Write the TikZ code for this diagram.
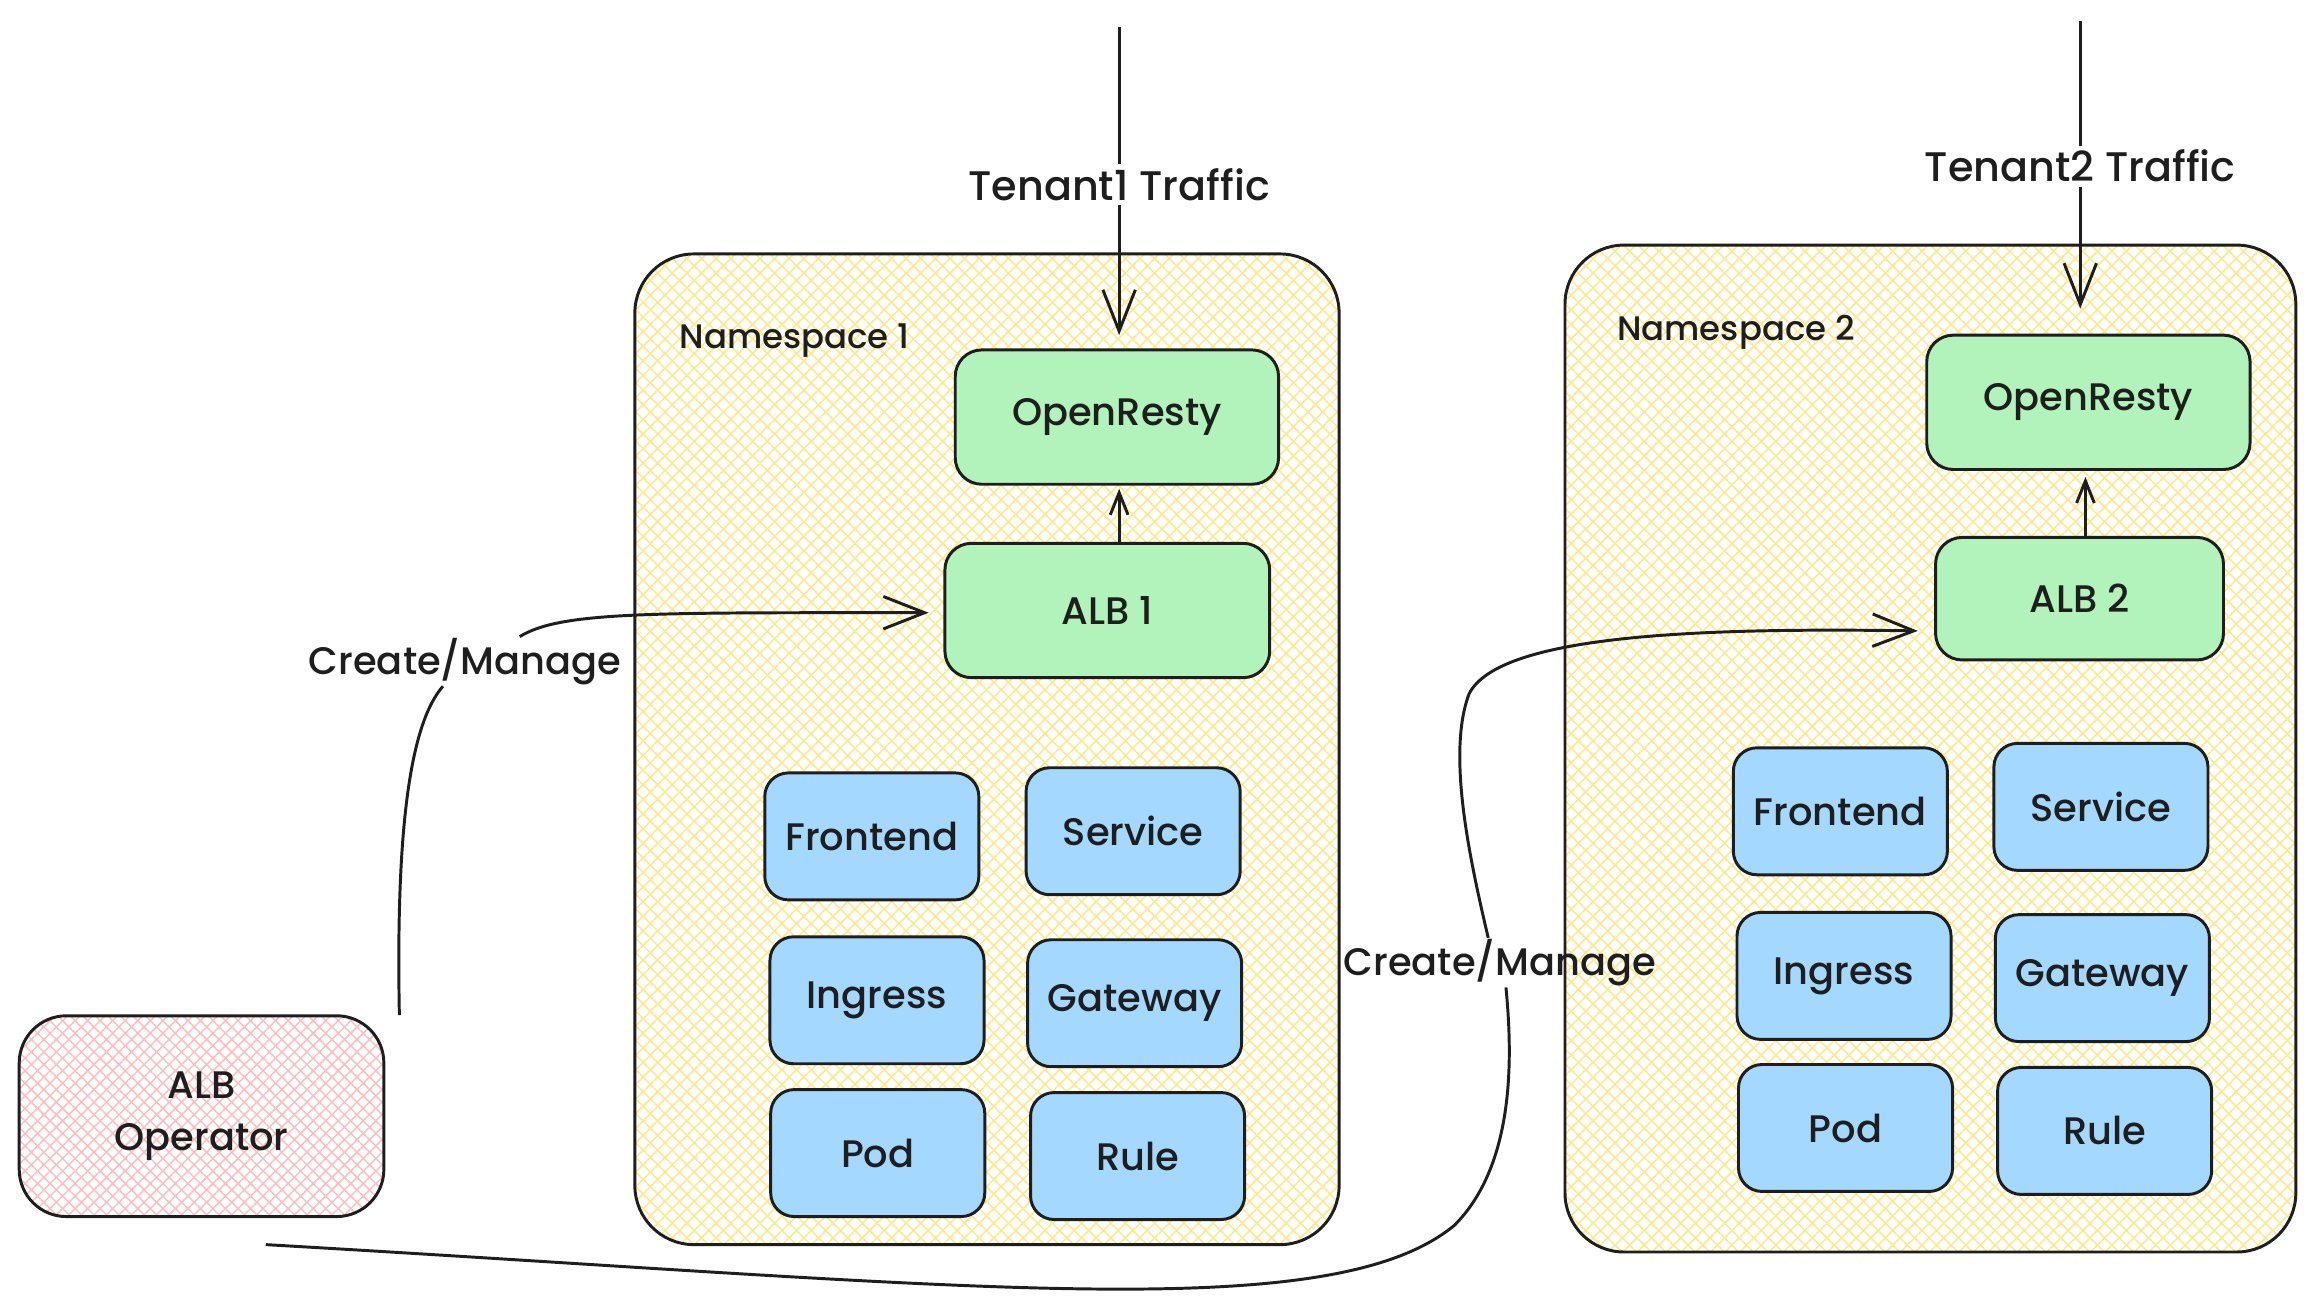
\documentclass[tikz,border=0pt]{standalone}
\usepackage{fontspec}
\setmainfont{Poppins}[UprightFont=* Medium]
\usetikzlibrary{arrows.meta,patterns.meta}
\definecolor{ink}{HTML}{1E1E1E}
\definecolor{nsyellow}{HTML}{FFE88F}
\definecolor{oppink}{HTML}{FFBDBD}
\definecolor{albgreen}{HTML}{B2F2BB}
\definecolor{resblue}{HTML}{A5D8FF}

\begin{document}
\begin{tikzpicture}[x=1pt,y=-1pt,
  line width=2pt,draw=ink,text=ink,
  every node/.style={font=\fontsize{26}{35}\selectfont},
  ns node/.style={draw=ink,line width=2pt,rounded corners=40pt,
    pattern={Hatch[angle=45,distance=7pt,line width=1.1pt]},pattern color=nsyellow},
  ns label/.style={font=\fontsize{23}{28}\selectfont,anchor=west},
  op node/.style={draw=ink,line width=2pt,rounded corners=32pt,align=center,
    minimum width=247pt,minimum height=136pt,
    pattern={Hatch[angle=45,distance=6pt,line width=1pt]},pattern color=oppink},
  green node/.style={draw=ink,fill=albgreen,rounded corners=18pt,
    minimum width=219pt,minimum height=91pt},
  blue node/.style={draw=ink,fill=resblue,rounded corners=16pt,
    minimum width=145pt,minimum height=86pt},
  cm label/.style={inner sep=0pt},
  traffic label/.style={fill=white,inner sep=3pt,font=\fontsize{28}{32}\selectfont},
  big arrow/.style={-{Straight Barb[length=28pt,width=22pt,line width=2pt]}},
  small arrow/.style={-{Straight Barb[length=15pt,width=12pt,line width=2pt]}}]

  \useasboundingbox (0,0) rectangle (1568,878);

  % namespaces
  \node[ns node,minimum width=477pt,minimum height=671pt] (ns1) at (668.5,507.5) {};
  \node[ns node,minimum width=495pt,minimum height=682pt] (ns2) at (1307.5,507) {};
  \node[ns label] (nsl1) at (456,231) {Namespace 1};
  \node[ns label] (nsl2) at (1091,225) {Namespace 2};

  % operator
  \node[op node] (op) at (136.5,756) {ALB\\Operator};

  % tenant 1
  \node[green node] (or1) at (756.5,282.5) {OpenResty};
  \node[green node,minimum width=220pt] (alb1) at (750,413.5) {ALB 1};
  \node[blue node] (fe1) at (590.5,566.5) {Frontend};
  \node[blue node] (sv1) at (767.5,563) {Service};
  \node[blue node] (in1) at (594,677.5) {Ingress};
  \node[blue node] (gw1) at (768.5,679.5) {Gateway};
  \node[blue node] (pod1) at (594.5,781) {Pod};
  \node[blue node] (rule1) at (770.5,783) {Rule};

  % tenant 2
  \node[green node] (or2) at (1414.5,272.5) {OpenResty};
  \node[green node,minimum width=195pt,minimum height=83pt] (alb2) at (1408.5,405.5) {ALB 2};
  \node[blue node] (fe2) at (1246.5,549.5) {Frontend};
  \node[blue node] (sv2) at (1423,546.5) {Service};
  \node[blue node] (in2) at (1249,661) {Ingress};
  \node[blue node] (gw2) at (1424,662.5) {Gateway};
  \node[blue node] (pod2) at (1250,764) {Pod};
  \node[blue node] (rule2) at (1425.5,766) {Rule};

  % traffic
  \coordinate (t1) at (758,18);
  \coordinate (t2) at (1409,14);
  \path
   (t1) edge[big arrow,shorten >=9pt] node[traffic label,pos=0.49]{Tenant1 Traffic} (t1 |- or1.north)
   (t2) edge[big arrow,shorten >=17pt] node[traffic label,pos=0.465]{Tenant2 Traffic} (t2 |- or2.north)
   ([xshift=8pt]alb1.north) edge[small arrow,shorten >=2pt] ([xshift=8pt]alb1.north |- or1.south)
   ([xshift=4pt]alb2.north) edge[small arrow,shorten >=4pt] ([xshift=4pt]alb2.north |- or2.south);

  % create / manage
  \node[cm label] (cm1) at (315,448) {Create/Manage};
  \node[cm label] (cm2) at (1016,652) {Create/Manage};
  \coordinate (c1) at ([xshift=10pt]op.north east);
  \coordinate (c2) at (180,843);

  \draw (c1) .. controls (268,560) and (278,490) .. ([xshift=-15pt]cm1.south);
  \draw[big arrow,shorten >=10pt] ([xshift=37pt]cm1.north)
    .. controls (380,414) and (440,415) .. ([yshift=-1.5pt]alb1.west);
  \draw (c2) .. controls (650,870) and (900,900) .. (985,830)
    .. controls (1025,790) and (1025,720) .. ([xshift=4pt]cm2.south);
  \draw[big arrow,shorten >=11pt] ([xshift=-8pt]cm2.north)
    .. controls (995,580) and (980,510) .. (995,470)
    .. controls (1015,430) and (1150,425) .. ([yshift=-22pt]alb2.west);
\end{tikzpicture}
\end{document}
